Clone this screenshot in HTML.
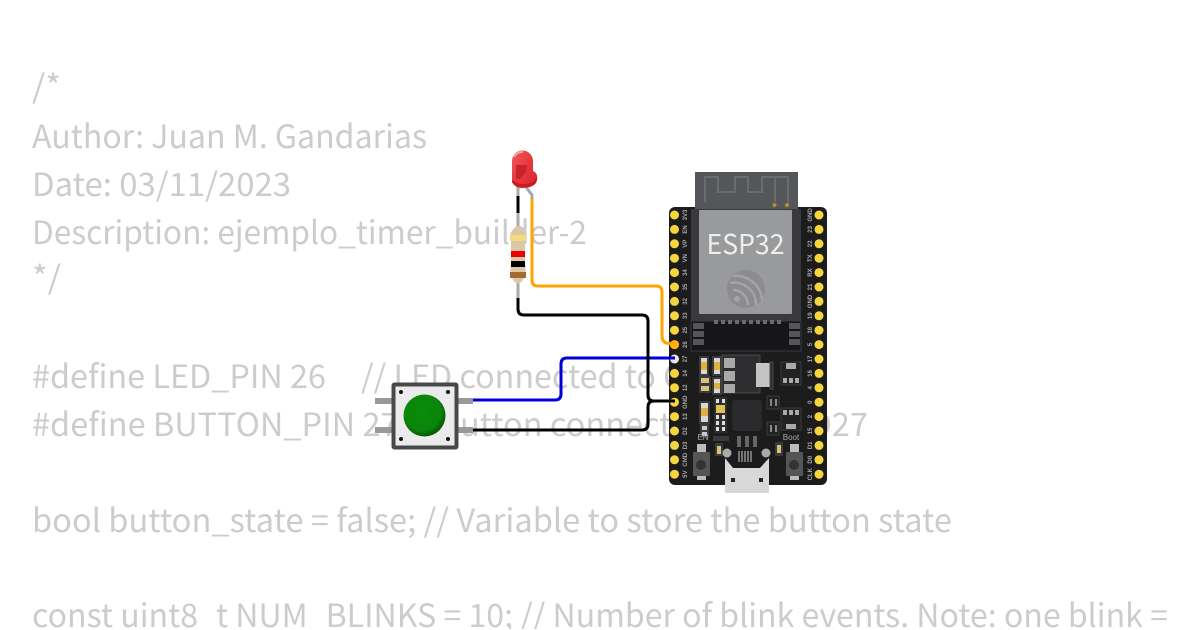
<!DOCTYPE html>
<html><head><meta charset="utf-8"><style>
html,body{margin:0;padding:0;background:#fff;width:1200px;height:630px;overflow:hidden}
svg{display:block}
.c{font-family:"Noto Sans CJK SC","Liberation Sans",sans-serif;font-size:32px;fill:#ccc}
.p{font-family:"Liberation Sans",sans-serif;font-size:6px;font-weight:bold;fill:#a8a8a8}
</style></head><body>
<svg width="1200" height="630" viewBox="0 0 1200 630" xmlns="http://www.w3.org/2000/svg">
<defs>
<linearGradient id="led" x1="0" y1="0" x2="1" y2="1"><stop offset="0" stop-color="#f05a5e"/><stop offset=".55" stop-color="#e6353b"/><stop offset="1" stop-color="#d4262c"/></linearGradient>
<radialGradient id="btn" cx=".45" cy=".42" r=".6"><stop offset="0" stop-color="#0b8a0b"/><stop offset=".72" stop-color="#0a860a"/><stop offset="1" stop-color="#045004"/></radialGradient>
<clipPath id="cl"><rect x="0" y="0" width="1168" height="629"/></clipPath>
</defs>
<rect width="1200" height="630" fill="#fff"/>
<g class="c" clip-path="url(#cl)">
<text x="32" y="98" textLength="29" lengthAdjust="spacingAndGlyphs">/*</text>
<text x="32" y="148" textLength="395" lengthAdjust="spacingAndGlyphs">Author: Juan M. Gandarias</text>
<text x="32" y="196" textLength="259" lengthAdjust="spacingAndGlyphs">Date: 03/11/2023</text>
<text x="32" y="244" textLength="555" lengthAdjust="spacingAndGlyphs">Description: ejemplo_timer_builder-2</text>
<text x="32" y="289" textLength="29" lengthAdjust="spacingAndGlyphs">*/</text>
<text x="32" y="388" textLength="294" lengthAdjust="spacingAndGlyphs">#define LED_PIN 26</text>
<text x="361" y="388" textLength="414" lengthAdjust="spacingAndGlyphs">// LED connected to GPIO26</text>
<text x="32" y="436" textLength="836" lengthAdjust="spacingAndGlyphs">#define BUTTON_PIN 27 // Button connected to GPIO27</text>
<text x="32" y="532" textLength="920" lengthAdjust="spacingAndGlyphs">bool button_state = false; // Variable to store the button state</text>
<text x="32" y="627" textLength="1240" lengthAdjust="spacingAndGlyphs">const uint8_t NUM_BLINKS = 10; // Number of blink events. Note: one blink = on+off</text>
</g>

<!-- board -->
<rect x="669" y="207" width="158" height="278" rx="6" fill="#1c1c1c"/>
<rect x="695" y="172" width="103" height="40" fill="#55565a"/>
<path d="M705 202V177H718V192H735V177H748V192H762V177H775V202M775 177H788V202" fill="none" stroke="#6a6b6f" stroke-width="2"/>
<circle cx="774.500" cy="205" r="2" fill="#b09030"/><circle cx="787" cy="205" r="2" fill="#b09030"/>
<rect x="691" y="209" width="110" height="112" fill="#3a3a3c"/>
<rect x="699" y="210" width="93" height="104" rx="1" fill="#999a9c"/>
<text x="745.500" y="254" text-anchor="middle" font-family="Noto Sans CJK SC,Liberation Sans,sans-serif" font-size="27" fill="#eee" textLength="78" lengthAdjust="spacingAndGlyphs">ESP32</text>
<circle cx="746" cy="289" r="19" fill="#8c8c8e"/>
<g fill="none" stroke="#a4a4a6" stroke-width="2.500"><path d="M730 283a22 22 0 0 1 26 22"/><path d="M733 276a26 26 0 0 1 29 24"/><path d="M733 290a15 15 0 0 1 15 15"/></g>
<circle cx="737" cy="299" r="3" fill="#a4a4a6"/>
<rect x="691" y="321" width="110" height="30" fill="#161618" stroke="#3a3a3c"/>
<g fill="#55565a"><rect x="693" y="323" width="11" height="6"/><rect x="693" y="331" width="11" height="6"/><rect x="693" y="339" width="11" height="6"/><rect x="789" y="323" width="11" height="6"/><rect x="789" y="331" width="11" height="6"/><rect x="789" y="339" width="11" height="6"/></g>
<g fill="#6a6a6c"><rect x="714" y="320" width="4" height="4"/><rect x="721" y="320" width="4" height="4"/><rect x="728" y="320" width="4" height="4"/><rect x="735" y="320" width="4" height="4"/><rect x="742" y="320" width="4" height="4"/><rect x="749" y="320" width="4" height="4"/><rect x="756" y="320" width="4" height="4"/><rect x="763" y="320" width="4" height="4"/><rect x="770" y="320" width="4" height="4"/><rect x="777" y="320" width="4" height="4"/></g>
<!-- pins -->
<g fill="#f5d63d">
<circle cx="674.500" cy="215" r="4.500"/><circle cx="674.500" cy="229.400" r="4.500"/><circle cx="674.500" cy="243.800" r="4.500"/><circle cx="674.500" cy="258.200" r="4.500"/><circle cx="674.500" cy="272.600" r="4.500"/><circle cx="674.500" cy="287" r="4.500"/><circle cx="674.500" cy="301.400" r="4.500"/><circle cx="674.500" cy="315.800" r="4.500"/><circle cx="674.500" cy="330.200" r="4.500"/><circle cx="674.500" cy="344.600" r="4.500"/><circle cx="674.500" cy="359" r="4.500" fill="#e8e8e8"/><circle cx="674.500" cy="373.400" r="4.500"/><circle cx="674.500" cy="387.800" r="4.500"/><circle cx="674.500" cy="402.200" r="4.500"/><circle cx="674.500" cy="416.600" r="4.500"/><circle cx="674.500" cy="431" r="4.500"/><circle cx="674.500" cy="445.400" r="4.500"/><circle cx="674.500" cy="459.800" r="4.500"/><circle cx="674.500" cy="474.200" r="4.500"/>
<circle cx="819" cy="215" r="4.500"/><circle cx="819" cy="229.400" r="4.500"/><circle cx="819" cy="243.800" r="4.500"/><circle cx="819" cy="258.200" r="4.500"/><circle cx="819" cy="272.600" r="4.500"/><circle cx="819" cy="287" r="4.500"/><circle cx="819" cy="301.400" r="4.500"/><circle cx="819" cy="315.800" r="4.500"/><circle cx="819" cy="330.200" r="4.500"/><circle cx="819" cy="344.600" r="4.500"/><circle cx="819" cy="359" r="4.500"/><circle cx="819" cy="373.400" r="4.500"/><circle cx="819" cy="387.800" r="4.500"/><circle cx="819" cy="402.200" r="4.500"/><circle cx="819" cy="416.600" r="4.500"/><circle cx="819" cy="431" r="4.500"/><circle cx="819" cy="445.400" r="4.500"/><circle cx="819" cy="459.800" r="4.500"/><circle cx="819" cy="474.200" r="4.500"/>
</g>
<g class="p" text-anchor="middle">
<text transform="translate(687,215) rotate(-90)">3V3</text><text transform="translate(687,229.400) rotate(-90)">EN</text><text transform="translate(687,243.800) rotate(-90)">VP</text><text transform="translate(687,258.200) rotate(-90)">VN</text><text transform="translate(687,272.600) rotate(-90)">34</text><text transform="translate(687,287) rotate(-90)">35</text><text transform="translate(687,301.400) rotate(-90)">32</text><text transform="translate(687,315.800) rotate(-90)">33</text><text transform="translate(687,330.200) rotate(-90)">25</text><text transform="translate(687,344.600) rotate(-90)">26</text><text transform="translate(687,359) rotate(-90)">27</text><text transform="translate(687,373.400) rotate(-90)">14</text><text transform="translate(687,387.800) rotate(-90)">12</text><text transform="translate(687,402.200) rotate(-90)">GND</text><text transform="translate(687,416.600) rotate(-90)">13</text><text transform="translate(687,431) rotate(-90)">D2</text><text transform="translate(687,445.400) rotate(-90)">D3</text><text transform="translate(687,459.800) rotate(-90)">CMD</text><text transform="translate(687,474.200) rotate(-90)">5V</text>
<text transform="translate(812,215) rotate(-90)">GND</text><text transform="translate(812,229.400) rotate(-90)">23</text><text transform="translate(812,243.800) rotate(-90)">22</text><text transform="translate(812,258.200) rotate(-90)">TX</text><text transform="translate(812,272.600) rotate(-90)">RX</text><text transform="translate(812,287) rotate(-90)">21</text><text transform="translate(812,301.400) rotate(-90)">GND</text><text transform="translate(812,315.800) rotate(-90)">19</text><text transform="translate(812,330.200) rotate(-90)">18</text><text transform="translate(812,344.600) rotate(-90)">5</text><text transform="translate(812,359) rotate(-90)">17</text><text transform="translate(812,373.400) rotate(-90)">16</text><text transform="translate(812,387.800) rotate(-90)">4</text><text transform="translate(812,402.200) rotate(-90)">0</text><text transform="translate(812,416.600) rotate(-90)">2</text><text transform="translate(812,431) rotate(-90)">15</text><text transform="translate(812,445.400) rotate(-90)">D1</text><text transform="translate(812,459.800) rotate(-90)">D0</text><text transform="translate(812,474.200) rotate(-90)">CLK</text>
</g>
<!-- SMD parts -->
<g>
<rect x="699" y="356" width="10" height="20" fill="#3a3a3c"/><rect x="701" y="358" width="6" height="16" fill="#d8d8d8"/><rect x="701" y="362" width="6" height="8" fill="#e0b040"/>
<rect x="712" y="356" width="10" height="20" fill="#3a3a3c"/><rect x="714" y="358" width="6" height="16" fill="#d8d8d8"/><rect x="714" y="362" width="6" height="8" fill="#e0b040"/>
<rect x="699" y="376" width="12" height="17" fill="#3a3a3c"/><rect x="701" y="378" width="8" height="5" fill="#d8c080"/><rect x="701" y="386" width="8" height="5" fill="#d8c080"/>
<rect x="712" y="377" width="10" height="18" fill="#3a3a3c"/><rect x="714" y="379" width="6" height="14" fill="#d8d8d8"/><rect x="714" y="383" width="6" height="6" fill="#e0b040"/>
<rect x="722" y="355" width="38" height="38" fill="#2e2e30" stroke="#48484a"/>
<rect x="724" y="358" width="11" height="10" fill="#a8a8a8"/><rect x="724" y="371" width="11" height="10" fill="#a8a8a8"/><rect x="724" y="384" width="11" height="9" fill="#a8a8a8"/>
<rect x="756" y="363" width="14" height="24" fill="#c4c4c4"/><rect x="770" y="362" width="3" height="27" fill="#2e2e30" stroke="#48484a"/>
<rect x="781" y="362" width="20" height="23" fill="#222" stroke="#3a3a3c"/><rect x="786" y="363" width="10" height="6" fill="#aaa"/><rect x="783" y="378" width="4" height="5" fill="#aaa"/><rect x="789" y="378" width="4" height="5" fill="#aaa"/><rect x="795" y="378" width="4" height="5" fill="#aaa"/>
<rect x="699" y="401" width="11" height="23" fill="#3a3a3c"/><rect x="701" y="403" width="7" height="19" fill="#d8d8d8"/><rect x="701" y="408" width="7" height="8" fill="#e0b040"/>
<rect x="700" y="424" width="9" height="14" fill="#3a3a3c"/><rect x="702" y="426" width="5" height="4" fill="#ccc"/><rect x="702" y="432" width="5" height="4" fill="#ccc"/>
<rect x="714" y="397" width="13" height="36" fill="#2e2e30"/><g fill="#ddd"><rect x="716" y="399" width="3" height="4"/><rect x="722" y="399" width="3" height="4"/><rect x="716" y="415" width="3" height="4"/><rect x="722" y="415" width="3" height="4"/><rect x="716" y="421" width="3" height="4"/><rect x="722" y="421" width="3" height="4"/><rect x="716" y="427" width="3" height="4"/><rect x="722" y="427" width="3" height="4"/></g><rect x="716" y="405" width="9" height="8" fill="#e0c050"/>
<rect x="732" y="400" width="30" height="31" rx="3" fill="#2a2a2c"/>
<rect x="767" y="396" width="12" height="13" fill="#222" stroke="#3a3a3c"/><rect x="767" y="422" width="12" height="13" fill="#222" stroke="#3a3a3c"/><g fill="#888"><rect x="770" y="399" width="2" height="7"/><rect x="775" y="399" width="2" height="7"/><rect x="770" y="425" width="2" height="7"/><rect x="775" y="425" width="2" height="7"/></g>
<rect x="781" y="408" width="20" height="22" fill="#222" stroke="#3a3a3c"/><rect x="786" y="424" width="10" height="5" fill="#aaa"/><rect x="783" y="410" width="4" height="5" fill="#aaa"/><rect x="789" y="410" width="4" height="5" fill="#aaa"/><rect x="795" y="410" width="4" height="5" fill="#aaa"/>
<rect x="713" y="436" width="16" height="5" fill="#3a3a3c"/>
<rect x="737" y="436" width="4" height="11" fill="#666"/><rect x="745" y="436" width="4" height="11" fill="#666"/><rect x="753" y="436" width="4" height="11" fill="#666"/>
<rect x="715" y="443" width="8" height="13" fill="#3a3a3c"/><rect x="717" y="446" width="4" height="8" fill="#d8c080"/>
<rect x="775" y="442" width="8" height="14" fill="#3a3a3c"/><rect x="777" y="445" width="4" height="8" fill="#d8c080"/>
</g>
<text x="703" y="440" font-family="Liberation Sans,sans-serif" font-size="8" fill="#aaa" text-anchor="middle">EN</text>
<text x="791" y="440" font-family="Liberation Sans,sans-serif" font-size="8" fill="#aaa" text-anchor="middle">Boot</text>
<!-- buttons -->
<rect x="697" y="444" width="9" height="10" fill="#bbb"/><rect x="697" y="474" width="9" height="6" fill="#bbb"/><rect x="693" y="452" width="17" height="24" fill="#555"/><circle cx="701" cy="465" r="5" fill="#333"/>
<rect x="790" y="444" width="9" height="10" fill="#bbb"/><rect x="790" y="474" width="9" height="6" fill="#bbb"/><rect x="786" y="452" width="17" height="24" fill="#555"/><circle cx="794" cy="465" r="5" fill="#333"/>
<!-- USB -->
<g><circle cx="727" cy="453" r="4.500" fill="#aaa"/><circle cx="766" cy="453" r="4.500" fill="#aaa"/></g>
<g stroke="#ccc" stroke-width="1"><path d="M739 451v11M742 451v11M745 451v11M748 451v11M751 451v11"/></g>
<path d="M725 458L733 468H760L769 458V493H725Z" fill="#d8d8d8"/>
<rect x="731" y="478" width="4" height="4" fill="#222"/><rect x="759" y="478" width="4" height="4" fill="#222"/>

<!-- resistor -->
<rect x="516.500" y="186" width="3" height="112" fill="#aaa"/>
<path d="M513 230Q518 222 523 230Q527 233 525 240V263Q527 272 523 280Q518 287 513 280Q509 272 511 263V240Q509 233 513 230Z" fill="#dcc8a8"/>
<rect x="510" y="235" width="16" height="6" fill="#f2dc80"/><rect x="511" y="251" width="14" height="6" fill="#e00"/><rect x="511" y="261" width="14" height="6" fill="#000"/><rect x="510" y="272" width="16" height="6" fill="#a56a32"/>
<!-- LED -->
<path d="M526 187L532 195V201" stroke="#aaa" stroke-width="3" fill="none"/>
<path d="M512 182V161A10.500 10.500 0 0 1 533 161V171Q538 173 537 180Q536 186 528 187Q516 190 512 182Z" fill="url(#led)"/>
<path d="M516 165H527L526 172L520 179H516Z" fill="#c8242c"/>
<path d="M513 180Q520 186 530 183Q535 182 537 176Q538 184 530 187Q516 190 512 182Z" fill="#c81c22"/>
<path d="M514 157A9 9 0 0 1 523 152" stroke="#f8a0a0" stroke-width="2" fill="none"/>
<!-- button -->
<rect x="375" y="398" width="18" height="6" fill="#999"/><rect x="375" y="427" width="18" height="6" fill="#999"/><rect x="457" y="398" width="16" height="6" fill="#999"/><rect x="457" y="427" width="16" height="6" fill="#999"/>
<rect x="393.500" y="384.500" width="63" height="63" fill="#ebebeb" stroke="#484848" stroke-width="4" rx="1"/>
<circle cx="401" cy="392" r="2" fill="#111"/><circle cx="448" cy="392" r="2" fill="#111"/><circle cx="401" cy="439" r="2" fill="#111"/><circle cx="448" cy="439" r="2" fill="#111"/>
<circle cx="424.500" cy="415.500" r="21" fill="url(#btn)"/>
<!-- wires -->
<g fill="none" stroke-width="3" stroke-linejoin="round">
<path d="M532 199V280Q532 286 538 286H656Q662 286 662 292V336Q662 343.500 670 343.500H674" stroke="#ffa500"/>
<path d="M473 400H555Q561 400 561 394V364Q561 358 567 358H675" stroke="#0000d8"/>
<path d="M518 298V309Q518 315 524 315H642Q648 315 648 321V395Q648 401 654 401H675" stroke="#000"/>
<path d="M473 430H642Q648 430 648 424V407Q648 401 654 401" stroke="#000"/>
<path d="M518 196V213" stroke="#000"/>
</g>
<circle cx="674.500" cy="344.600" r="4.500" fill="#ffa500" opacity=".75"/>
</svg>
</body></html>
